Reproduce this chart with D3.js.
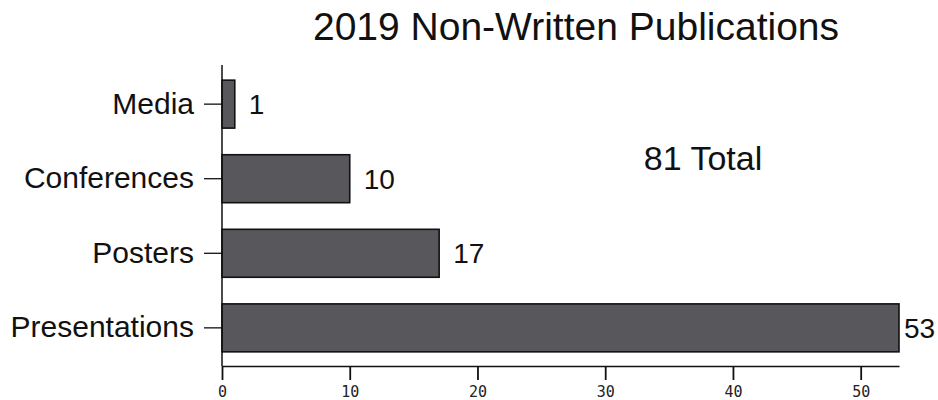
<!DOCTYPE html>
<html>
<head>
<meta charset="utf-8">
<script src="https://cdn.jsdelivr.net/npm/d3@7"></script>
<style>
  body { margin: 0; background: #fff; }
  text { font-family: "Liberation Sans", Arial, sans-serif; }
</style>
</head>
<body>
<div id="chart"></div>
<script>
var categories = ["Media", "Conferences", "Posters", "Presentations"];
var counts = [1, 10, 17, 53];
var xTicks = [0, 10, 20, 30, 40, 50];
var totalLabel = "81 Total";
var title = "2019 Non-Written Publications";

var width = 938, height = 400;

var svg = d3.select("#chart")
  .append("svg")
    .attr("width", width)
    .attr("height", height);

var x = d3.scaleLinear()
  .domain([0, 53])
  .range([222, 899]);

var y = d3.scaleBand()
  .domain(categories)
  .range([66, 366])
  .paddingInner(0.357)
  .paddingOuter(0.19);

// title
svg.append("text")
  .attr("x", 576)
  .attr("y", 40)
  .attr("text-anchor", "middle")
  .style("font-size", "39px")
  .style("fill", "#111")
  .text(title);

// bars
svg.append("g")
  .selectAll("rect")
  .data(counts)
  .enter()
  .append("rect")
    .attr("x", x(0))
    .attr("y", function(d, i) { return y(categories[i]); })
    .attr("width", function(d) { return x(d) - x(0); })
    .attr("height", y.bandwidth())
    .style("fill", "#58575b")
    .style("stroke", "#111")
    .style("stroke-width", 1.6);

// value labels
svg.append("g")
  .selectAll("text")
  .data(counts)
  .enter()
  .append("text")
    .attr("x", function(d) { return Math.min(x(d) + 14, 904); })
    .attr("y", function(d, i) { return y(categories[i]) + y.bandwidth() / 2; })
    .attr("dy", "0.36em")
    .style("font-size", "28px")
    .style("fill", "#111")
    .text(function(d) { return d; });

// y axis
var yax = svg.append("g")
  .attr("transform", "translate(" + x(0) + ",0)")
  .call(d3.axisLeft(y).tickSize(18).tickPadding(10).tickSizeOuter(0));
yax.select(".domain").attr("d", "M0,65V366").style("stroke", "#111").style("stroke-width", 1.5);
yax.selectAll(".tick line").style("stroke", "#111").style("stroke-width", 1.3);
yax.selectAll(".tick text")
  .style("font-family", "'Liberation Sans', Arial, sans-serif")
  .style("font-size", "30px")
  .style("fill", "#111");

// x axis
var xax = svg.append("g")
  .attr("transform", "translate(0,366)")
  .call(d3.axisBottom(x).tickValues(xTicks).tickSize(14).tickPadding(6).tickSizeOuter(0));
xax.select(".domain").style("stroke", "#111").style("stroke-width", 1.5);
xax.selectAll(".tick line").style("stroke", "#111").style("stroke-width", 1.8);
xax.selectAll(".tick text")
  .style("font-family", "'DejaVu Sans Mono', monospace")
  .style("font-size", "15px")
  .style("fill", "#222");

// total annotation
svg.append("text")
  .attr("x", 703)
  .attr("y", 170)
  .attr("text-anchor", "middle")
  .style("font-size", "34px")
  .style("fill", "#111")
  .text(totalLabel);
</script>
</body>
</html>
